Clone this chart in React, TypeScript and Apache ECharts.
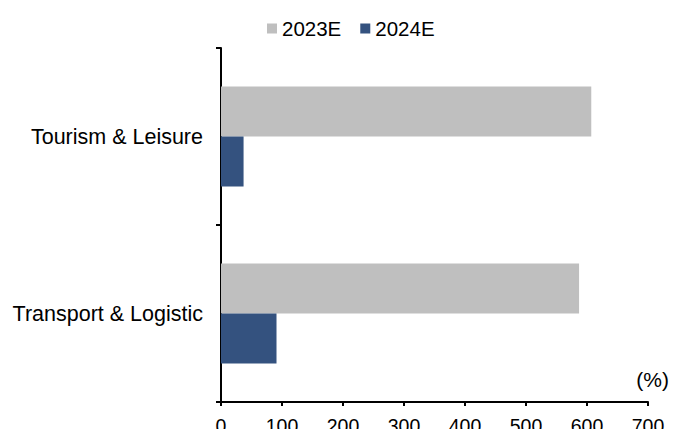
import React, { useEffect, useRef } from "react";
import * as echarts from "echarts";

const categories = ["Tourism & Leisure", "Transport & Logistic"];
const seriesNames = ["2023E", "2024E"];
const values2023E = [607, 587];
const values2024E = [37, 91];
const xTicks = [0, 700, 100];

export default function App() {
  const ref = useRef<HTMLDivElement>(null);
  useEffect(() => {
    if (!ref.current) return;
    const chart = echarts.init(ref.current, undefined, { renderer: "svg" });
    const font = "Liberation Sans, Arial, sans-serif";
    chart.setOption({
      animation: false,
      textStyle: { fontFamily: font },
      legend: {
        top: 13,
        left: 262,
        itemWidth: 10,
        itemHeight: 10,
        itemGap: 19,
        icon: "rect",
        textStyle: { fontSize: 20.5, color: "#000", fontFamily: font },
        data: seriesNames,
      },
      grid: { left: 221, right: 36, top: 48, bottom: 35, containLabel: false },
      xAxis: {
        type: "value",
        min: xTicks[0],
        max: xTicks[1],
        interval: xTicks[2],
        axisLine: { show: true, lineStyle: { color: "#000", width: 2 } },
        axisTick: { show: true, length: 4, lineStyle: { color: "#000", width: 2 } },
        axisLabel: { fontSize: 19.5, color: "#000", margin: 14, fontFamily: font },
        splitLine: { show: false },
      },
      yAxis: {
        type: "category",
        inverse: true,
        data: categories,
        axisLine: { show: true, lineStyle: { color: "#000", width: 2 } },
        axisTick: { show: true, length: 5, lineStyle: { color: "#000", width: 2 } },
        axisLabel: { fontSize: 21.5, color: "#000", margin: 18, fontFamily: font },
      },
      graphic: [
        {
          type: "text",
          right: 15,
          top: 369,
          style: { text: "(%)", fontSize: 21, fill: "#000", fontFamily: font },
        },
      ],
      series: [
        {
          name: seriesNames[0],
          type: "bar",
          data: values2023E,
          barWidth: 50,
          barGap: "0%",
          itemStyle: { color: "#bfbfbf" },
        },
        {
          name: seriesNames[1],
          type: "bar",
          data: values2024E,
          barWidth: 50,
          barGap: "0%",
          itemStyle: { color: "#34527f" },
        },
      ],
    });
    return () => chart.dispose();
  }, []);
  return <div ref={ref} style={{ width: 684, height: 437, margin: -8 }} />;
}
